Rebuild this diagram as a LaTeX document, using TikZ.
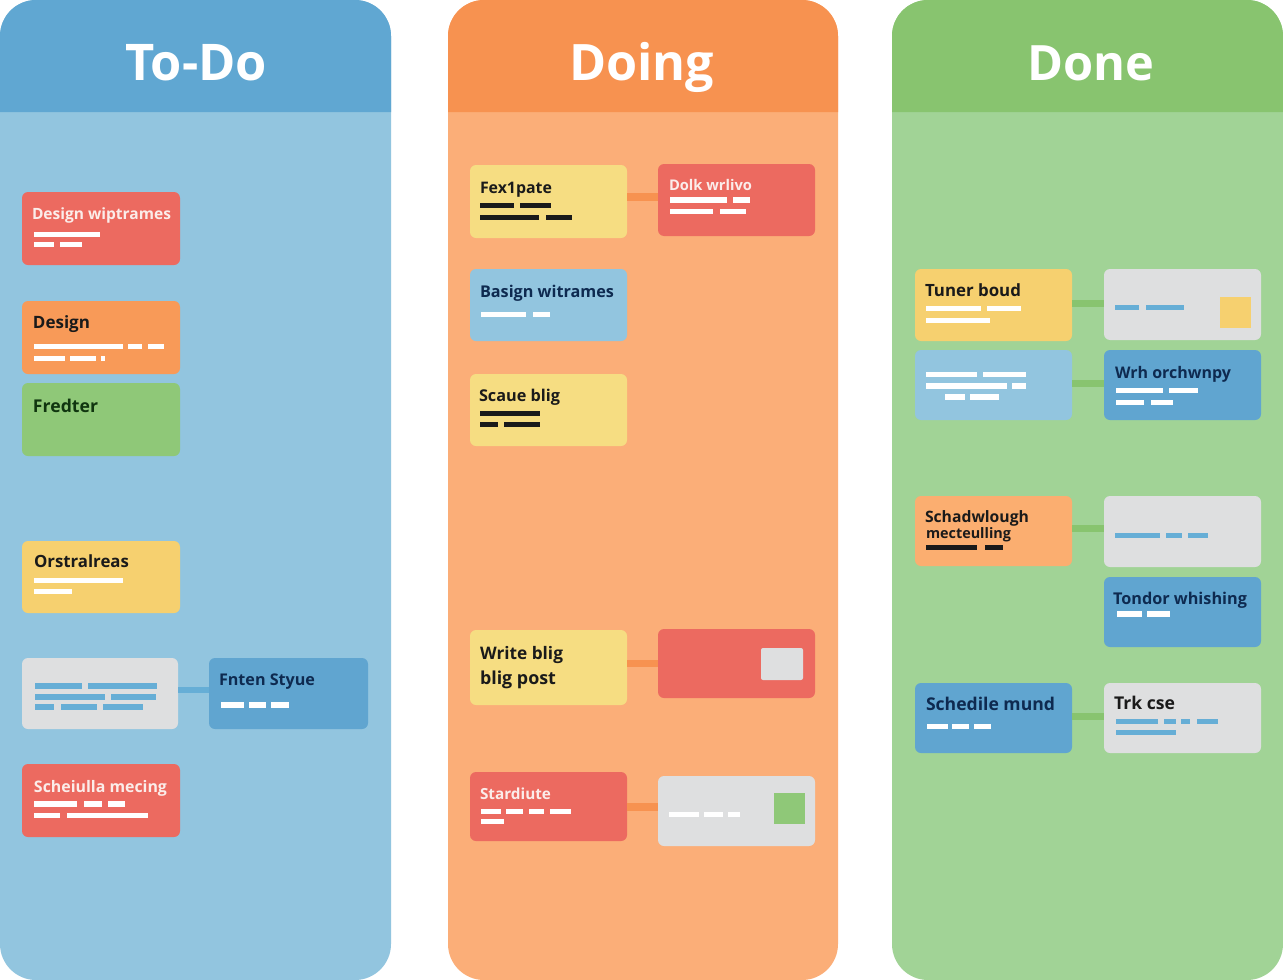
\documentclass[tikz,border=0pt]{standalone}
\usepackage{fontspec}
\usepackage{graphicx}
\setmainfont{Open Sans}
\definecolor{bluehead}{HTML}{60A7D2}
\definecolor{bluebody}{HTML}{92C5DF}
\definecolor{orangehead}{HTML}{F79250}
\definecolor{orangebody}{HTML}{FBAE78}
\definecolor{greenhead}{HTML}{88C46F}
\definecolor{greenbody}{HTML}{A1D396}
\definecolor{cardred}{HTML}{EC6A60}
\definecolor{cardorange}{HTML}{F89A58}
\definecolor{cardpeach}{HTML}{FBAE70}
\definecolor{cardgreen}{HTML}{8FC878}
\definecolor{cardyellow}{HTML}{F6D06F}
\definecolor{cardpale}{HTML}{F6DD82}
\definecolor{cardgray}{HTML}{DEDFE0}
\definecolor{cardblue}{HTML}{60A5D0}
\definecolor{cardlight}{HTML}{92C5DF}
\definecolor{inkdark}{HTML}{1A1A1A}
\definecolor{inknavy}{HTML}{0E2A50}
\definecolor{inkgreen}{HTML}{10350F}
\definecolor{inkwhite}{HTML}{FBEDEA}
\definecolor{barblue}{HTML}{66AED6}
\tikzset{
  cardnode/.style={rectangle,rounded corners=6pt,inner sep=0pt,outer sep=0pt},
  labelnode/.style={inner sep=0pt,outer sep=0pt,anchor=base west},
  linkblue/.style={draw=barblue,line width=6.5pt},
  linkorange/.style={draw=orangehead,line width=7.5pt},
  linkgreen/.style={draw=greenhead,line width=7pt},
}
\newcommand{\cardbox}[6]{%
  \pgfmathsetmacro{\cw}{#4-#2}\pgfmathsetmacro{\ch}{#5-#3}%
  \pgfmathsetmacro{\cx}{(#4+#2)/2}\pgfmathsetmacro{\cy}{(#5+#3)/2}%
  \node[cardnode,fill=#6,minimum width=\cw pt,minimum height=\ch pt] (#1) at (\cx,\cy) {};}
\newcommand{\lbl}[6]{%
  \pgfmathsetmacro{\lw}{#4-#2}%
  \node[labelnode,text=#5] (#1) at (#2,#3) {\resizebox{\lw pt}{!}{\fontsize{17}{17}\selectfont\bfseries #6}};}
\newcommand{\barrow}[4]{%
  \foreach \a/\b in {#4} {\fill[#1] (\a,#2) rectangle (\b,#3);}}
\newcommand{\panel}[6]{%
  \pgfmathsetmacro{\pw}{#3-#2}\pgfmathsetmacro{\px}{(#3+#2)/2}%
  \node[rectangle,rounded corners=36pt,fill=#5,inner sep=0pt,minimum width=\pw pt,minimum height=980pt] (#1) at (\px,490) {};
  \fill[#4] (#2,112) [rounded corners=36pt] -- (#2,0) -- (#3,0) [sharp corners] -- (#3,112) -- cycle;}
\newcommand{\ttl}[4]{%
  \pgfmathsetmacro{\lw}{#3-#2}%
  \node[labelnode,text=white] (#1) at (#2,80) {\resizebox{\lw pt}{!}{\fontsize{50}{50}\selectfont\bfseries #4}};}
\begin{document}
\begin{tikzpicture}[x=1pt,y=-1pt]
\useasboundingbox (0,0) rectangle (1283,980);
\fill[white] (0,0) rectangle (1283,980);
\panel{ptodo}{0}{391}{bluehead}{bluebody}{}
\panel{pdoing}{448}{838}{orangehead}{orangebody}{}
\panel{pdone}{892}{1283}{greenhead}{greenbody}{}
\ttl{ttodo}{125}{267}{To-Do}
\ttl{tdoing}{569}{714}{Doing}
\ttl{tdone}{1027}{1154}{Done}

% To-Do
\cardbox{a1}{22}{192}{180}{265}{cardred}
\cardbox{a2}{22}{301}{180}{374}{cardorange}
\cardbox{a3}{22}{383}{180}{456}{cardgreen}
\cardbox{a4}{22}{541}{180}{613}{cardyellow}
\cardbox{a5}{22}{658}{178}{729}{cardgray}
\cardbox{a6}{209}{658}{368}{729}{cardblue}
\cardbox{a7}{22}{764}{180}{837}{cardred}
\draw[linkblue] ([yshift=3.5pt]a5.east) -- ([yshift=3.5pt]a6.west);
\lbl{la1}{32}{219}{171}{inkwhite}{Design wiptrames}
\lbl{la2}{33}{328}{90}{inkdark}{Design}
\lbl{la3}{33}{412}{98}{inkgreen}{Fredter}
\lbl{la4}{34}{567}{129}{inkdark}{Orstralreas}
\lbl{la6}{219}{685}{315}{inknavy}{Fnten Styue}
\lbl{la7}{34}{792}{167}{inkwhite}{Scheiulla mecing}
\barrow{white}{231.5}{237}{34/100}
\barrow{white}{242}{247}{34/54,60/82}
\barrow{white}{343.5}{349}{34/123,128/142,148/164}
\barrow{white}{355.5}{361}{34/65,70/96,101/105}
\barrow{white}{577.5}{583}{34/123}
\barrow{white}{589}{594}{34/72}
\barrow{barblue}{683}{688.5}{35/82,88/157}
\barrow{barblue}{694}{700}{35/105,111/156}
\barrow{barblue}{704}{710}{35/54,61/97,103/143}
\barrow{white}{702}{707.5}{221/244,249/266,271/289}
\barrow{white}{801}{807}{34/77,84/102,108/125}
\barrow{white}{813}{818}{34/60,67/148}

% Doing
\cardbox{b1}{470}{165}{627}{238}{cardpale}
\cardbox{b2}{658}{164}{815}{236}{cardred}
\cardbox{b3}{470}{269}{627}{341}{cardlight}
\cardbox{b4}{470}{374}{627}{446}{cardpale}
\cardbox{b5}{470}{630}{627}{705}{cardpale}
\cardbox{b6}{658}{629}{815}{698}{cardred}
\cardbox{b7}{470}{772}{627}{841}{cardred}
\cardbox{b8}{658}{776}{815}{846}{cardgray}
\draw[linkorange] ([yshift=4.5pt]b1.east) -- ([yshift=3pt]b2.west);
\draw[linkorange] ([yshift=4pt]b5.east) -- ([yshift=0pt]b6.west);
\draw[linkorange] ([yshift=-0.5pt]b7.east) -- ([yshift=4pt]b8.west);
\lbl{lb1}{480}{193}{552}{inkdark}{Fex1pate}
\lbl{lb2}{669}{190}{752}{inkwhite}{Dolk wrlivo}
\lbl{lb3}{480}{297}{614}{inknavy}{Basign witrames}
\lbl{lb4}{479}{401}{560}{inkdark}{Scaue blig}
\lbl{lb5a}{480}{659}{563}{inkdark}{Write blig}
\lbl{lb5b}{480}{684}{556}{inkdark}{blig post}
\lbl{lb7}{480}{799}{551}{inkwhite}{Stardiute}
\barrow{inkdark}{203}{208}{480/514,520/551}
\barrow{inkdark}{215}{220}{480/539,546/572}
\barrow{white}{197}{203}{670/727,733/750}
\barrow{white}{209}{214}{670/713,720/746}
\barrow{white}{312}{317}{481/526,533/550}
\barrow{inkdark}{411}{416}{480/540}
\barrow{inkdark}{422}{427}{480/498,504/540}
\fill[cardgray,rounded corners=2pt] (761,648) rectangle (803,680);
\barrow{white}{809}{814}{481/501,506/523,529/544,550/571}
\barrow{white}{819}{824}{481/504}
\barrow{white}{812}{817}{669/699,704/723,728/740}
\fill[cardgreen] (774,793) rectangle (805,824);

% Done
\cardbox{c1}{915}{269}{1072}{341}{cardyellow}
\cardbox{c2}{1104}{269}{1261}{340}{cardgray}
\cardbox{c3}{915}{350}{1072}{420}{cardlight}
\cardbox{c4}{1104}{350}{1261}{420}{cardblue}
\cardbox{c5}{915}{496}{1072}{566}{cardpeach}
\cardbox{c6}{1104}{496}{1261}{567}{cardgray}
\cardbox{c7}{1104}{577}{1261}{647}{cardblue}
\cardbox{c8}{915}{683}{1072}{753}{cardblue}
\cardbox{c9}{1104}{683}{1261}{753}{cardgray}
\draw[linkgreen] ([yshift=2pt]c1.east) -- ([yshift=1.5pt]c2.west);
\draw[linkgreen] ([yshift=2pt]c3.east) -- ([yshift=2pt]c4.west);
\draw[linkgreen] ([yshift=2.5pt]c5.east) -- ([yshift=3pt]c6.west);
\draw[linkgreen] ([yshift=1.5pt]c8.east) -- ([yshift=1.5pt]c9.west);
\lbl{lc1}{925}{296}{1021}{inkdark}{Tuner boud}
\lbl{lc4}{1115}{378}{1231}{inknavy}{Wrh orchwnpy}
\lbl{lc5a}{925}{522}{1029}{inkdark}{Schadwlough}
\lbl{lc5b}{926}{538}{1011}{inkdark}{mecteulling}
\lbl{lc7}{1113}{604}{1247}{inknavy}{Tondor whishing}
\lbl{lc8}{926}{710}{1055}{inknavy}{Schedile mund}
\lbl{lc9}{1114}{709}{1175}{inkdark}{Trk cse}
\barrow{white}{306}{311}{926/981,987/1021}
\barrow{white}{318}{323}{926/990}
\barrow{barblue}{305}{310}{1115/1139,1146/1184}
\fill[cardyellow] (1220,297) rectangle (1251,328);
\barrow{white}{372}{377}{926/977,983/1026}
\barrow{white}{383}{389}{926/1007,1012/1026}
\barrow{white}{394}{400}{945/965,970/999}
\barrow{white}{388}{393}{1116/1163,1169/1198}
\barrow{white}{400}{405}{1116/1144,1151/1173}
\barrow{inkdark}{545}{549.5}{926/977,985/1003}
\barrow{barblue}{533}{538}{1115/1160,1166/1182,1188/1208}
\barrow{white}{611}{617}{1117/1142,1147/1170}
\barrow{white}{724}{729}{927/948,952/969,974/991}
\barrow{barblue}{719}{724}{1116/1158,1164/1176,1181/1190,1197/1218}
\barrow{barblue}{730}{735}{1116/1176}
\end{tikzpicture}
\end{document}
